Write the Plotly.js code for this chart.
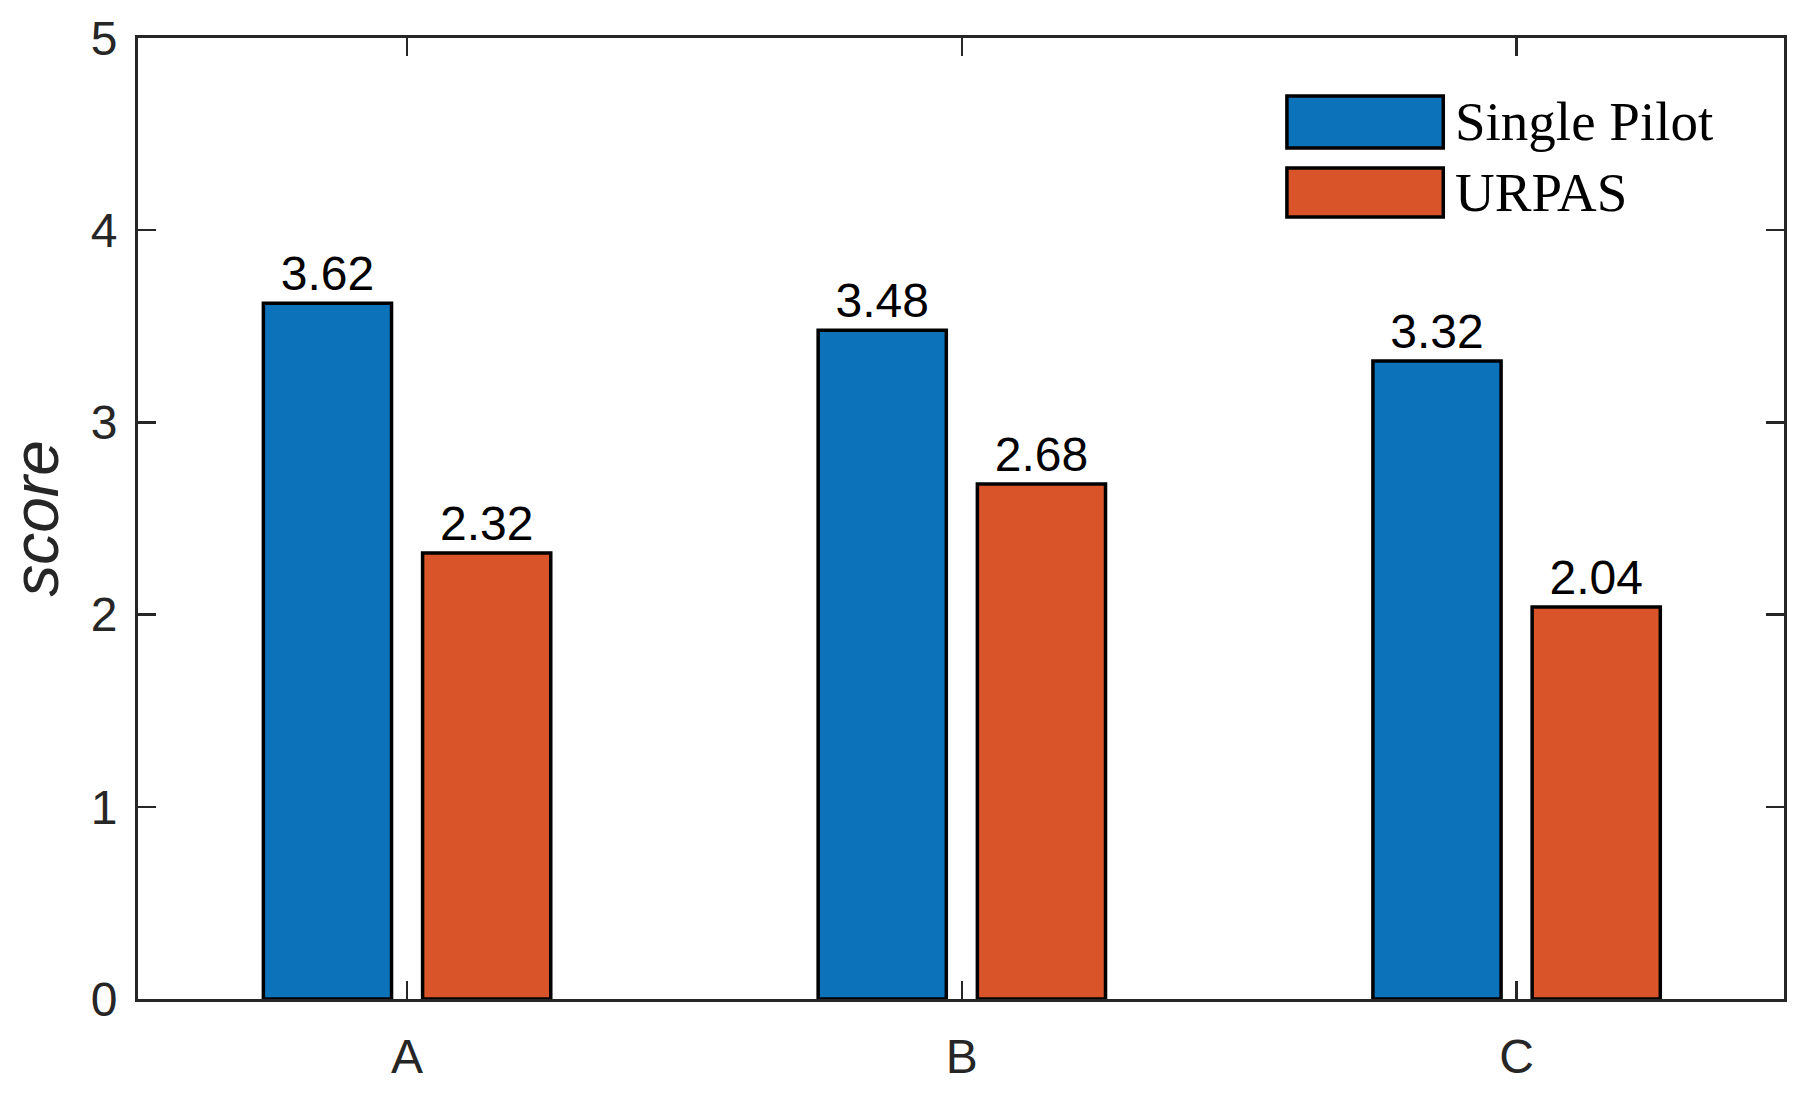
<!DOCTYPE html>
<html>
<head>
<meta charset="utf-8">
<script src="https://cdn.plot.ly/plotly-3.0.1.min.js"></script>
<style>html,body{margin:0;padding:0;background:#fff;}#chart{width:1813px;height:1103px;}</style>
</head>
<body>
<div id="chart"></div>
<script>
const categories = ["A", "B", "C"];
const seriesNames = ["Single Pilot", "URPAS"];
const singlePilot = [3.62, 3.48, 3.32];
const urpas = [2.32, 2.68, 2.04];
const yTicks = [0, 1, 2, 3, 4, 5];
const colors = ["#0C72BA", "#D95429"];

const seriesValues = [singlePilot, urpas];
const traces = seriesValues.map((vals, i) => ({
  type: "bar",
  x: categories,
  y: vals,
  name: seriesNames[i],
  marker: {color: colors[i], line: {color: "#000000", width: 3.5}},
  text: vals.map(v => v.toFixed(2)),
  textposition: "outside",
  textfont: {family: "Liberation Sans, Arial, sans-serif", size: 48, color: "#000"},
  cliponaxis: false,
  showlegend: false
}));

// legend drawn as swatches + labels (from series names/colors)
const shapes = [];
const annotations = [];
const legTop = [0.9397, 0.8647];
const legBot = [0.8855, 0.8137];
seriesNames.forEach((n, i) => {
  shapes.push({type: "rect", xref: "paper", yref: "paper", x0: 0.698, x1: 0.793,
    y0: legBot[i], y1: legTop[i], fillcolor: colors[i], line: {color: "#000", width: 3.5}});
  annotations.push({xref: "paper", yref: "paper", x: 0.799, y: (legTop[i] + legBot[i]) / 2,
    xanchor: "left", yanchor: "middle", showarrow: false, text: n,
    font: {family: "Liberation Serif, Times New Roman, serif", size: 55, color: "#000"}});
});

const axisCommon = {
  showline: true, linecolor: "#262626", linewidth: 3, mirror: "ticks",
  ticks: "inside", ticklen: 18, tickwidth: 2.5, tickcolor: "#262626",
  showgrid: false, zeroline: false,
  tickfont: {family: "Liberation Sans, Arial, sans-serif", size: 48, color: "#262626"}
};

const layout = {
  width: 1813, height: 1103,
  margin: {l: 138, r: 29, t: 38, b: 104},
  paper_bgcolor: "#fff", plot_bgcolor: "#fff",
  barmode: "group", bargap: 0.426, bargroupgap: 0.195,
  xaxis: Object.assign({}, axisCommon, {
    type: "category", range: [-0.485, 2.482], ticklabelstandoff: 13
  }),
  yaxis: Object.assign({}, axisCommon, {
    range: [0, 5], tickvals: yTicks, ticktext: yTicks.map(String), ticklabelstandoff: 8,
    title: {text: "score", standoff: 32,
      font: {family: "Liberation Sans, Arial, sans-serif", size: 64, color: "#262626", style: "italic"}}
  }),
  shapes: shapes,
  annotations: annotations
};

Plotly.newPlot("chart", traces, layout, {staticPlot: true, displayModeBar: false});
</script>
</body>
</html>
